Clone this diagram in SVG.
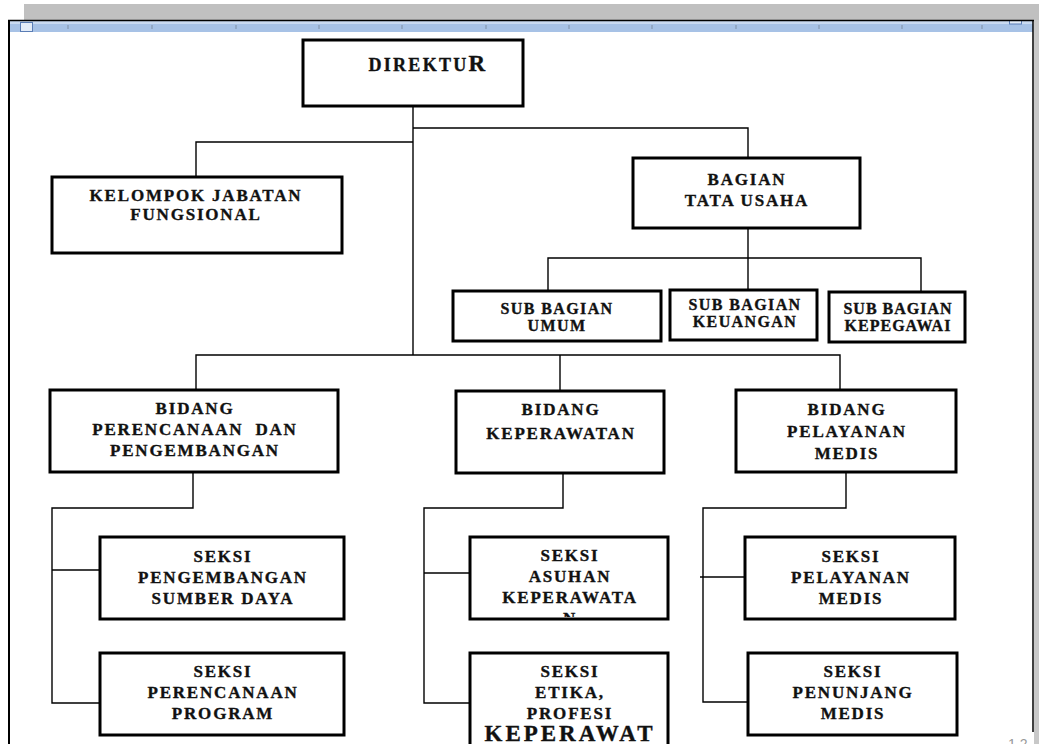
<svg xmlns="http://www.w3.org/2000/svg" width="1039" height="744" viewBox="0 0 1039 744">
<defs>
<style>
.box{fill:#fff;stroke:#000;stroke-width:3}
.con{fill:none;stroke:#000;stroke-width:1.4}
.t{font-family:"Liberation Serif","Times New Roman",serif;font-weight:bold;font-size:17px;fill:#111;stroke:#111;stroke-width:0.35;text-anchor:middle;letter-spacing:1.8px}
.s{font-size:16px;letter-spacing:1.4px}
.tick{stroke:#7f8fa6;stroke-width:1}
</style>
<clipPath id="clipAsuhan"><rect x="470" y="537" width="198" height="80"/></clipPath>
</defs>
<rect width="1039" height="744" fill="#fff"/>
<!-- window chrome -->
<rect x="24" y="4" width="1015" height="16" fill="#c0c0c0"/>
<rect x="1034" y="20" width="5" height="724" fill="#c8c8c8"/>
<rect x="9" y="21" width="1024" height="11" fill="#a7c2e6"/>
<rect x="9" y="21" width="1024" height="3" fill="#c9daf1"/>
<g class="tick">
<line x1="68" y1="25" x2="68" y2="29"/><line x1="152" y1="25" x2="152" y2="29"/><line x1="236" y1="25" x2="236" y2="29"/><line x1="319" y1="25" x2="319" y2="29"/><line x1="402" y1="25" x2="402" y2="29"/><line x1="486" y1="25" x2="486" y2="29"/><line x1="569" y1="25" x2="569" y2="29"/><line x1="652" y1="25" x2="652" y2="29"/><line x1="736" y1="25" x2="736" y2="29"/><line x1="819" y1="25" x2="819" y2="29"/><line x1="902" y1="25" x2="902" y2="29"/><line x1="982" y1="25" x2="982" y2="29"/>
</g>
<rect x="20.5" y="22.5" width="12" height="9" fill="#e3ecf8" stroke="#5a7db5" stroke-width="1"/>
<rect x="1009.5" y="20.5" width="12" height="3.5" fill="#e3ecf8" stroke="#5a7db5" stroke-width="1"/>
<line x1="8" y1="20.5" x2="1034" y2="20.5" stroke="#000" stroke-width="1.5"/>
<line x1="9" y1="20" x2="9" y2="744" stroke="#000" stroke-width="2"/>
<line x1="1033" y1="20" x2="1033" y2="732" stroke="#000" stroke-width="1.5"/>
<text x="1008" y="749" font-family="Liberation Sans, Arial, sans-serif" font-size="14" fill="#999">1 2</text>

<g id="connectors">
<path class="con" d="M413,106 V355"/>
<path class="con" d="M413,128 H748 V158"/>
<path class="con" d="M196,177 V142 H413"/>
<path class="con" d="M748,228 V258"/>
<path class="con" d="M548,291 V258 H921 V292"/>
<path class="con" d="M748,258 V290"/>
<path class="con" d="M196,390 V355 H840 V390"/>
<path class="con" d="M560,355 V391"/>
<path class="con" d="M193,472 V508 H52 V703 H100"/>
<path class="con" d="M52,570 H100"/>
<path class="con" d="M563,473 V508 H424 V703 H470"/>
<path class="con" d="M424,573 H470"/>
<path class="con" d="M846,472 V508 H703 V702 H748"/>
<path class="con" d="M700,577 H745"/>
</g>

<g id="direktur">
<rect class="box" x="303" y="40" width="220" height="66"/>
<text class="t" x="428" y="71" style="font-size:18px;letter-spacing:2.3px">DIREKTU<tspan style="font-size:23px">R</tspan></text>
</g>
<g id="kelompok">
<rect class="box" x="52" y="177" width="290" height="76"/>
<text class="t" x="196" y="201">KELOMPOK JABATAN</text>
<text class="t" x="196" y="220">FUNGSIONAL</text>
</g>
<g id="bagian-tu">
<rect class="box" x="633" y="158" width="227" height="70"/>
<text class="t" x="747" y="185">BAGIAN</text>
<text class="t" x="747" y="206">TATA USAHA</text>
</g>
<g id="sub-umum">
<rect class="box" x="453" y="291" width="208" height="50"/>
<text class="t s" x="557" y="314">SUB BAGIAN</text>
<text class="t s" x="557" y="331">UMUM</text>
</g>
<g id="sub-keuangan">
<rect class="box" x="670" y="290" width="147" height="50"/>
<text class="t s" x="745" y="310">SUB BAGIAN</text>
<text class="t s" x="745" y="327">KEUANGAN</text>
</g>
<g id="sub-kepegawai">
<rect class="box" x="829" y="292" width="136" height="50"/>
<text class="t s" x="898" y="314" style="letter-spacing:1px">SUB BAGIAN</text>
<text class="t s" x="898" y="331" style="letter-spacing:1px">KEPEGAWAI</text>
</g>
<g id="bidang-perencanaan">
<rect class="box" x="50" y="390" width="288" height="82"/>
<text class="t" x="195" y="414">BIDANG</text>
<text class="t" x="195" y="435" xml:space="preserve">PERENCANAAN  DAN</text>
<text class="t" x="195" y="456">PENGEMBANGAN</text>
</g>
<g id="bidang-keperawatan">
<rect class="box" x="456" y="391" width="208" height="82"/>
<text class="t" x="561" y="415">BIDANG</text>
<text class="t" x="561" y="439">KEPERAWATAN</text>
</g>
<g id="bidang-pelayanan">
<rect class="box" x="736" y="390" width="220" height="82"/>
<text class="t" x="847" y="415">BIDANG</text>
<text class="t" x="847" y="437">PELAYANAN</text>
<text class="t" x="847" y="459">MEDIS</text>
</g>
<g id="seksi-psd">
<rect class="box" x="100" y="537" width="244" height="82"/>
<text class="t" x="223" y="562">SEKSI</text>
<text class="t" x="223" y="583">PENGEMBANGAN</text>
<text class="t" x="223" y="604">SUMBER DAYA</text>
</g>
<g id="seksi-pp">
<rect class="box" x="100" y="653" width="244" height="82"/>
<text class="t" x="223" y="677">SEKSI</text>
<text class="t" x="223" y="698">PERENCANAAN</text>
<text class="t" x="223" y="719">PROGRAM</text>
</g>
<g id="seksi-asuhan">
<rect class="box" x="470" y="537" width="198" height="82"/>
<text class="t" x="570" y="561">SEKSI</text>
<text class="t" x="570" y="582">ASUHAN</text>
<text class="t" x="570" y="603">KEPERAWATA</text>
<text class="t" x="570" y="624" clip-path="url(#clipAsuhan)">N</text>
</g>
<g id="seksi-etika">
<rect class="box" x="470" y="653" width="198" height="100"/>
<text class="t" x="570" y="677">SEKSI</text>
<text class="t" x="570" y="698">ETIKA,</text>
<text class="t" x="570" y="719">PROFESI</text>
<text class="t" x="570" y="741" style="font-size:23px;letter-spacing:3px">KEPERAWAT</text>
</g>
<g id="seksi-pm">
<rect class="box" x="745" y="537" width="210" height="82"/>
<text class="t" x="851" y="562">SEKSI</text>
<text class="t" x="851" y="583">PELAYANAN</text>
<text class="t" x="851" y="604">MEDIS</text>
</g>
<g id="seksi-penunjang">
<rect class="box" x="748" y="653" width="209" height="82"/>
<text class="t" x="853" y="677">SEKSI</text>
<text class="t" x="853" y="698">PENUNJANG</text>
<text class="t" x="853" y="719">MEDIS</text>
</g>
</svg>
